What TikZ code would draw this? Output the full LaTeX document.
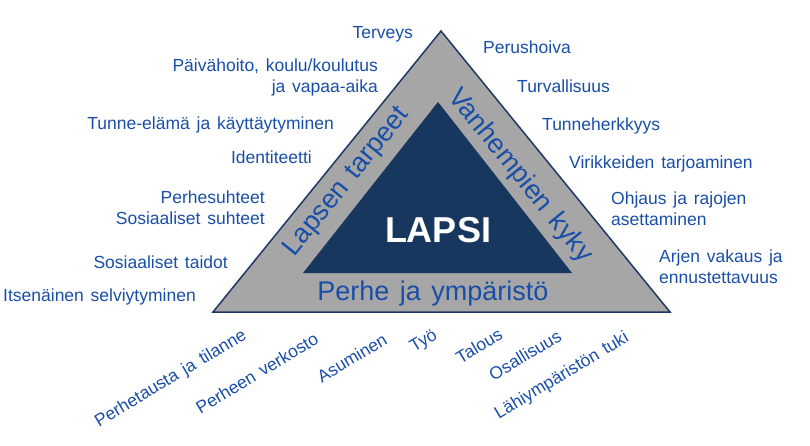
\documentclass[tikz,border=0pt]{standalone}
\usepackage{fontspec}
\setmainfont[WordSpace={1.4}]{Liberation Sans}
\usepackage{tikz}

\definecolor{navy}{RGB}{23,55,94}
\definecolor{edge}{RGB}{31,56,100}
\definecolor{band}{RGB}{166,166,166}
\definecolor{lblue}{RGB}{25,78,168}

\begin{document}
\begin{tikzpicture}[x=1pt,y=-1pt,
  lbl/.style={text=lblue,font=\fontsize{17.5}{21}\selectfont,inner sep=0pt},
  tilt/.style={lbl,rotate=31},
  side/.style={text=lblue,font=\fontsize{27}{30}\selectfont,inner sep=0pt}]
\useasboundingbox (0,0) rectangle (810,446);

% the grey band first, then the dark core on top
\filldraw[fill=band,draw=edge,line width=1.5pt] (213,312) -- (441,31) -- (670,312) -- cycle;
\fill[navy] (303,273) -- (438,102) -- (572,273) -- cycle;

\node[text=white,font=\bfseries\fontsize{36}{40}\selectfont] (lapsi) at (438,230) {LAPSI};

% the three sides
\node[side,rotate=51]  (tarpeet) at (347,182) {Lapsen tarpeet};
\node[side,rotate=-51] (kyky)    at (520,176) {Vanhempien kyky};
\node[side]            (perhe)   at (433,294) {Perhe ja ympäristö};

% child's needs, left
\node[lbl,anchor=east] (terveys)   at (413,34)  {Terveys};
\node[lbl,anchor=east,align=right] (paivahoito) at (378,77)
      {Päivähoito, koulu/koulutus\\ja vapaa-aika};
\node[lbl,anchor=east] (tunne)     at (334,125) {Tunne-elämä ja käyttäytyminen};
\node[lbl,anchor=east] (identit)   at (312,157) {Identiteetti};
\node[lbl,anchor=east,align=right] (suhteet) at (265,208)
      {Perhesuhteet\\Sosiaaliset suhteet};
\node[lbl,anchor=east] (taidot)    at (228,262) {Sosiaaliset taidot};
\node[lbl,anchor=east] (itsen)     at (196,297) {Itsenäinen selviytyminen};

% parents' capacity, right
\node[lbl,anchor=west] (perushoiva) at (483,47)  {Perushoiva};
\node[lbl,anchor=west] (turva)      at (517,86)  {Turvallisuus};
\node[lbl,anchor=west] (herkkyys)   at (542,126) {Tunneherkkyys};
\node[lbl,anchor=west] (virikkeet)  at (569,164) {Virikkeiden tarjoaminen};
\node[lbl,anchor=west,align=left] (ohjaus) at (611,209)
      {Ohjaus ja rajojen\\asettaminen};
\node[lbl,anchor=west,align=left] (arki)   at (659,267)
      {Arjen vakaus ja\\ennustettavuus};

% family and surroundings, below
\node[tilt] (tausta)   at (171,379) {Perhetausta ja tilanne};
\node[tilt] (verkosto) at (257,373) {Perheen verkosto};
\node[tilt] (asuminen) at (352,358) {Asuminen};
\node[tilt] (tyo)      at (424,342) {Työ};
\node[tilt] (talous)   at (479,346) {Talous};
\node[tilt] (osall)    at (525,355) {Osallisuus};
\node[tilt] (lahi)     at (562,376) {Lähiympäristön tuki};
\end{tikzpicture}
\end{document}
